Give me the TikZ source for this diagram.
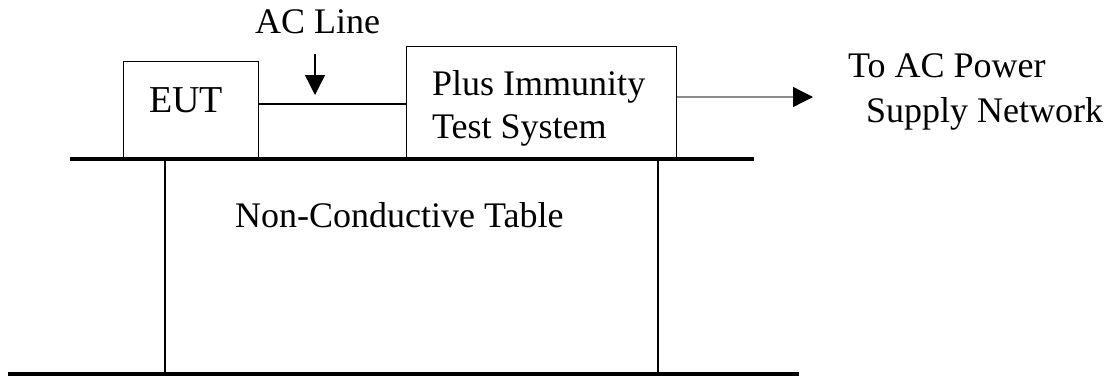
\documentclass[tikz,border=0pt]{standalone}
\usepackage{fontspec}
\setmainfont{Liberation Serif}
\usetikzlibrary{arrows.meta}
\begin{document}
\begin{tikzpicture}[x=1pt,y=-1pt,
  boxshape/.style={draw=black, line width=1.3pt, rectangle, inner sep=0pt, anchor=north west},
  lbl/.style={anchor=base west, inner sep=0pt, font=\fontsize{36}{43}\selectfont, align=left},
  thickline/.style={line width=4pt, black},
  thinline/.style={line width=1.3pt, black},
  tip/.style={-{Triangle[length=20pt,width=20pt,color=black]}}
]
\useasboundingbox (0,0) rectangle (1109,376);
% boxes
\node[boxshape, minimum width=135pt, minimum height=97pt] (eut) at (123,61) {};
\node[boxshape, minimum width=270pt, minimum height=112pt] (plus) at (406,46) {};
% texts
\node[lbl, font=\fontsize{38}{43}\selectfont] (eutt) at (149,112) {EUT};
\node[lbl] (plust) at (432,138) {Plus Immunity\\Test System};
\node[lbl] (acl) at (255,33) {AC Line};
\node[lbl] (tbl) at (235,227) {Non-Conductive Table};
\node[lbl] (to1) at (848,77) {To AC Power};
\node[lbl] (to2) at (866,122) {Supply Network};
% coordinates
\coordinate (cable) at (0,104);
\coordinate (outl) at (0,97);
\coordinate (outend) at (813,97);
\coordinate (acTop) at (315,54);
\coordinate (acBot) at (315,95);
\coordinate (tl) at (70,158.5);
\coordinate (tr) at (754,158.5);
\coordinate (bl) at (8,374);
\coordinate (br) at (799,374);
\coordinate (leg1) at (165,158);
\coordinate (leg2) at (658,158);
% connectors
\draw[thinline] (eut.east |- cable) -- (plus.west |- cable);
\draw[thinline, tip] (acTop) -- (acBot);
\draw[line width=1.3pt, black!45, tip] (plus.east |- outl) -- (outend);
% table
\draw[thinline] (leg1) -- (leg1 |- br);
\draw[thinline] (leg2) -- (leg2 |- br);
\draw[thickline] (tl) -- (tr);
\draw[thickline] (bl) -- (br);
\end{tikzpicture}
\end{document}
